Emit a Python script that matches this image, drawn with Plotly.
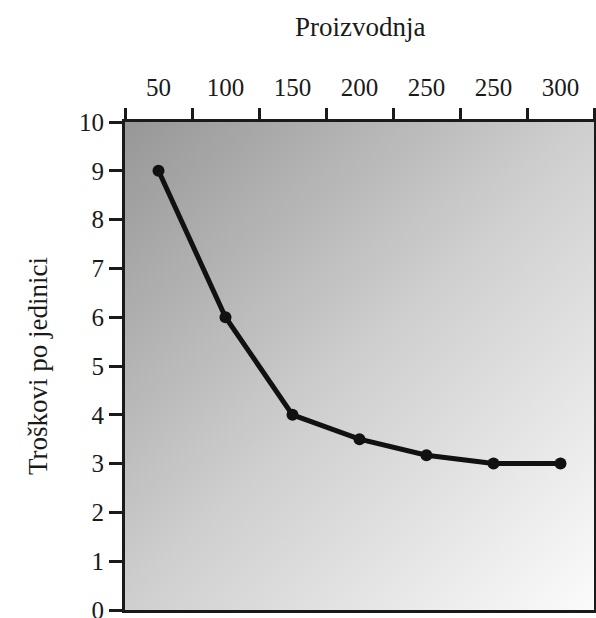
import plotly.graph_objects as go
import urllib.parse

# Data
x_labels = ["50", "100", "150", "200", "250", "250", "300"]
x_pos = [0, 1, 2, 3, 4, 5, 6]
unit_costs = [9, 6, 4, 3.5, 3.17, 3, 3]
y_ticks = [0, 1, 2, 3, 4, 5, 6, 7, 8, 9, 10]

FONT = "Liberation Serif"
INK = "#1a1a1a"

svg = (
    "<svg xmlns='http://www.w3.org/2000/svg' width='100' height='100' preserveAspectRatio='none'>"
    "<defs><linearGradient id='g' x1='0' y1='0' x2='1' y2='1'>"
    "<stop offset='0' stop-color='#979797'/>"
    "<stop offset='0.5' stop-color='#cfcfcf'/>"
    "<stop offset='1' stop-color='#fbfbfb'/>"
    "</linearGradient></defs>"
    "<rect width='100' height='100' fill='url(#g)'/></svg>"
)
svg_uri = "data:image/svg+xml;charset=utf-8," + urllib.parse.quote(svg)

fig = go.Figure()
fig.add_trace(go.Scatter(
    x=x_pos, y=unit_costs, mode="lines+markers",
    line=dict(color="#111111", width=5),
    marker=dict(color="#111111", size=12),
    showlegend=False, cliponaxis=False,
))

fig.update_layout(
    width=596, height=618,
    margin=dict(l=125, r=2, t=122, b=8),
    paper_bgcolor="white", plot_bgcolor="rgba(0,0,0,0)",
    font=dict(family=FONT, size=25, color=INK),
    images=[dict(source=svg_uri, xref="paper", yref="paper", x=0, y=1,
                 sizex=1, sizey=1, sizing="stretch", layer="below")],
    xaxis=dict(
        side="top", range=[-0.5, 6.5], tickmode="array",
        tickvals=x_pos, ticktext=x_labels, automargin=False,
        ticks="outside", ticklen=13, tickcolor="rgba(0,0,0,0)",
        showgrid=False, zeroline=False,
        showline=True, linecolor=INK, linewidth=3, mirror=True,
        minor=dict(tickmode="array", tickvals=[-0.5, 0.5, 1.5, 2.5, 3.5, 4.5, 5.5, 6.5],
                   ticks="outside", ticklen=11, tickwidth=3, tickcolor=INK, showgrid=False),
        tickfont=dict(family=FONT, size=25, color=INK),
    ),
    yaxis=dict(
        range=[0, 10], tickmode="array", tickvals=y_ticks, automargin=False,
        ticklabeloverflow="allow",
        ticks="outside", ticklen=13, tickwidth=3, tickcolor=INK,
        showgrid=False, zeroline=False,
        showline=True, linecolor=INK, linewidth=3, mirror=True,
        tickfont=dict(family=FONT, size=25, color=INK),
    ),
    annotations=[
        dict(text="Proizvodnja", xref="paper", yref="paper", x=0.5, y=1,
             yshift=95, xanchor="center", yanchor="middle", showarrow=False,
             font=dict(family=FONT, size=27, color=INK)),
        dict(text="Troškovi po jedinici", xref="paper", yref="paper", x=0, y=0.5,
             xshift=-87, xanchor="center", yanchor="middle", textangle=-90, showarrow=False,
             font=dict(family=FONT, size=27, color=INK)),
    ],
)

fig.write_html("out.html", config={"displayModeBar": False},
               post_script="document.body.style.margin='0';document.body.style.overflow='hidden';")
